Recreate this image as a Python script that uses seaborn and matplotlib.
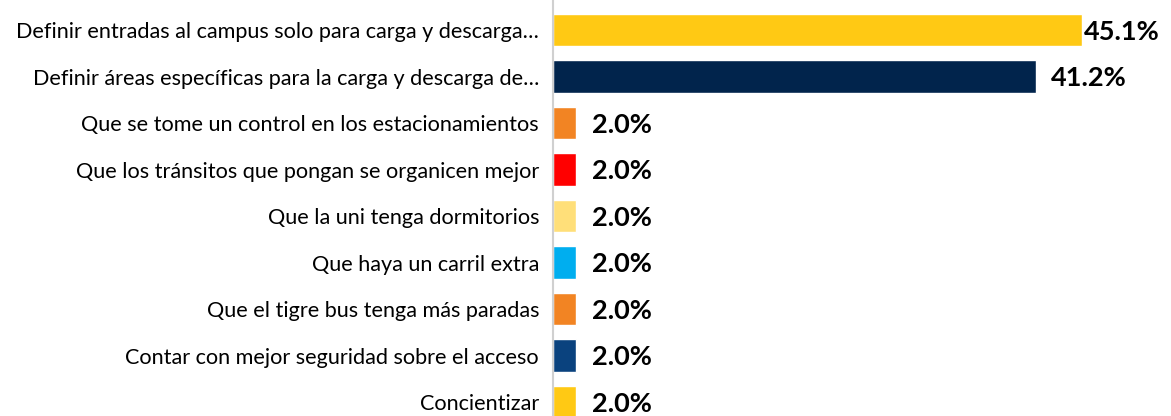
import matplotlib
matplotlib.use('Agg')
import matplotlib.pyplot as plt
import seaborn as sns
import pandas as pd

# datos
opciones = [
    'Definir entradas al campus solo para carga y descarga…',
    'Definir áreas específicas para la carga y descarga de…',
    'Que se tome un control en los estacionamientos',
    'Que los tránsitos que pongan se organicen mejor',
    'Que la uni tenga dormitorios',
    'Que haya un carril extra',
    'Que el tigre bus tenga más paradas',
    'Contar con mejor seguridad sobre el acceso',
    'Concientizar',
]
porcentajes = [45.1, 41.2, 2.0, 2.0, 2.0, 2.0, 2.0, 2.0, 2.0]
colores = ['#FFC914', '#01244C', '#F28423', '#FF0000', '#FFDF79',
           '#00AEEF', '#F28423', '#0A427E', '#FFC914']

df = pd.DataFrame({'opcion': opciones, 'pct': porcentajes})

sns.set_style('white')
plt.rcParams['font.family'] = ['Lato', 'DejaVu Sans']

fig = plt.figure(figsize=(11.71, 4.16), dpi=100)
ax = fig.add_axes([553 / 1171, 0, 1 - 553 / 1171, 1])

sns.barplot(data=df, x='pct', y='opcion', hue='opcion', palette=colores,
            legend=False, width=0.69, saturation=1, ax=ax)

ax.set_xlim(0, 52.7)
ax.set_ylim(8.30, -0.645)
ax.set_xlabel('')
ax.set_ylabel('')
ax.set_xticks([])
ax.tick_params(axis='y', length=0, pad=10, labelsize=15.6, labelcolor='black')

for s in ['top', 'right', 'bottom']:
    ax.spines[s].set_visible(False)
ax.spines['left'].set_color('#D0D0D0')
ax.spines['left'].set_linewidth(1.5)

for i, v in enumerate(porcentajes):
    ax.text(v + 0.2 if v > 44 else v + 1.3, i + 0.04, f'{v:.1f}%', va='center',
            ha='left', fontsize=19.5, fontweight='bold', color='black')

fig.savefig('out.png', dpi=100)
